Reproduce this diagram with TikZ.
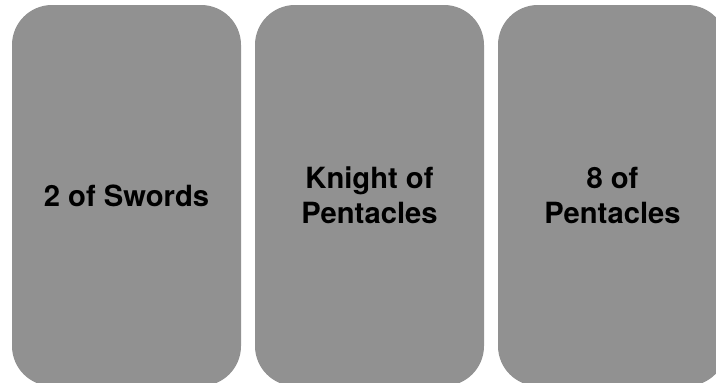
\documentclass[tikz,border=0pt]{standalone}
\usepackage{fontspec}
\setmainfont{TeX Gyre Heros}
\definecolor{cardgray}{RGB}{145,145,145}
\begin{document}
\begin{tikzpicture}[x=1pt,y=-1pt,
  card/.style={fill=cardgray, draw=none, rounded corners=40pt,
    minimum width=229pt, minimum height=381pt, inner sep=0pt,
    align=center, text=black,
    font=\bfseries\fontsize{29.2}{35}\selectfont}]
\useasboundingbox (0,0) rectangle (716,383);
\clip (0,0) rectangle (716,383);
\node[card] (c1) at (126.5,195.5) {2 of Swords};
\node[card] (c2) at (369.5,195.5) {Knight of\\Pentacles};
\node[card] (c3) at (612.5,195.5) {8 of\\Pentacles};
\end{tikzpicture}
\end{document}
